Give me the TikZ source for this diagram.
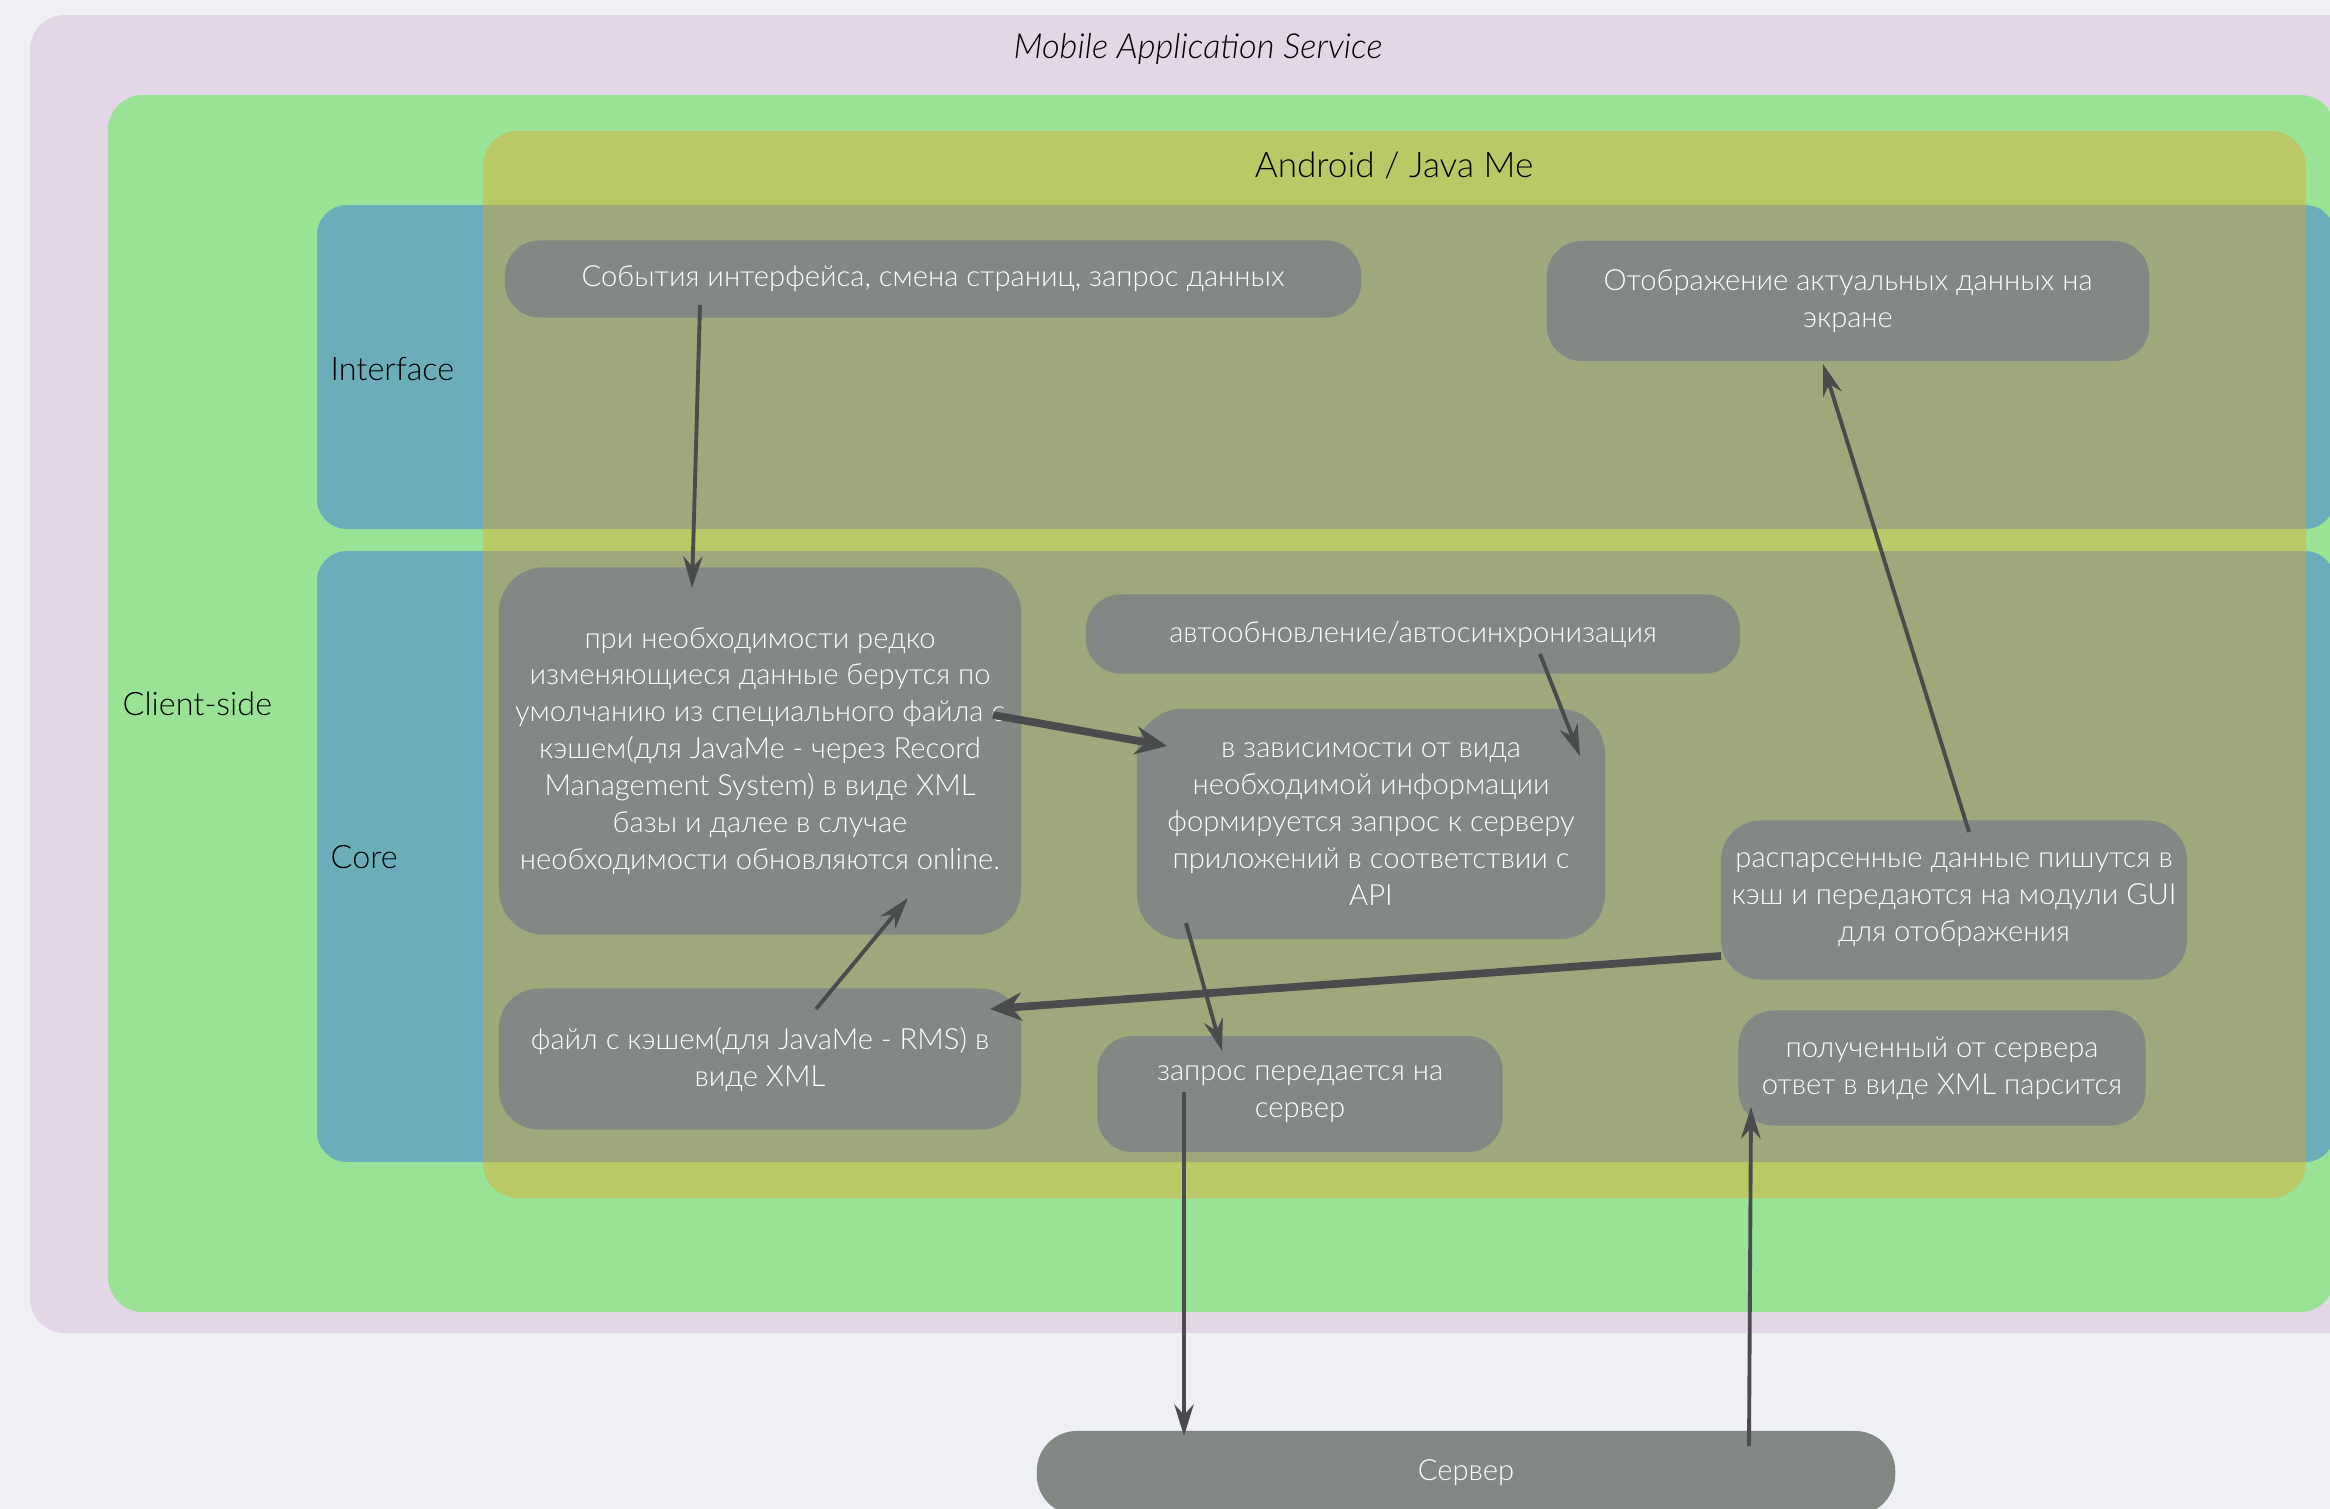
\documentclass[tikz,border=0pt]{standalone}
\usepackage{fontspec}
\IfFontExistsTF{Lato Light}{\setmainfont{Lato Light}[ItalicFont={Lato Light Italic}]}{\setmainfont{Lato}}
\usepackage{tikz}
\usetikzlibrary{arrows.meta,positioning,calc}

\definecolor{bgcol}{HTML}{EFF0F3}
\definecolor{pinkcol}{HTML}{E2D6E7}
\definecolor{greencol}{HTML}{99E296}
\definecolor{yellowcol}{HTML}{BAC966}
\definecolor{bluecol}{HTML}{6BADB8}
\definecolor{olivecol}{HTML}{9EA87B}
\definecolor{nodecol}{HTML}{838885}
\definecolor{arrowcol}{HTML}{4A4B4D}

\begin{document}
\begin{tikzpicture}[x=0.01cm,y=-0.01cm,
  box/.style={shape=rectangle,rounded corners=0.35cm,fill=nodecol,text=white,align=center,inner sep=0pt,font=\fontsize{8.3}{10.5}\selectfont},
  arr/.style={draw=arrowcol,line width=1.1pt,-{Stealth[length=9pt,width=5.5pt,inset=3pt]}},
  fat arr/.style={draw=arrowcol,line width=2.2pt,-{Stealth[length=9pt,width=8pt,inset=3pt]}},
  label/.style={font=\fontsize{9.2}{11}\selectfont}]
\useasboundingbox (0,0) rectangle (2330,1509);
\clip (0,0) rectangle (2330,1509);
\fill[bgcol] (0,0) rectangle (2330,1509);

% containers
\fill[pinkcol,rounded corners=0.35cm] (30,15) rectangle (2420,1333);
\fill[greencol,rounded corners=0.35cm] (108,95) rectangle (2335,1312);
\fill[bluecol,rounded corners=0.3cm] (317,205) rectangle (2335,529);
\fill[bluecol,rounded corners=0.3cm] (317,551) rectangle (2335,1162);
\fill[yellowcol,rounded corners=0.35cm] (483,131) rectangle (2306,1198);
\begin{scope}
\clip[rounded corners=0.35cm] (483,131) rectangle (2306,1198);
\fill[olivecol,rounded corners=0.3cm] (317,205) rectangle (2335,529);
\fill[olivecol,rounded corners=0.3cm] (317,551) rectangle (2335,1162);
\end{scope}

\node[label,font=\fontsize{9.8}{12}\selectfont\itshape] (mas) at (1198,49) {Mobile Application Service};
\node[label,font=\fontsize{10}{12}\selectfont] (andr) at (1394,165) {Android / Java Me};
\node[label,anchor=west,inner sep=0pt] (iface) at (330,369) {Interface};
\node[label,anchor=west,inner sep=0pt] (core) at (330,857) {Core};
\node[label,anchor=west,inner sep=0pt] (client) at (122,704) {Client-side};

% nodes
\node[box,minimum width=8.56cm,minimum height=0.77cm] (ev) at (933,279) {События интерфейса, смена страниц, запрос данных};
\node[box,minimum width=6.02cm,minimum height=1.2cm] (disp) at (1848,301) {Отображение актуальных данных на\\экране};
\node[box,minimum width=5.22cm,minimum height=3.67cm,rounded corners=0.45cm] (cache) at (760,751) {при необходимости редко\\изменяющиеся данные берутся по\\умолчанию из специального файла с\\кэшем(для JavaMe - через Record\\Management System) в виде XML\\базы и далее в случае\\необходимости обновляются online.};
\node[box,minimum width=6.54cm,minimum height=0.79cm] (auto) at (1413,634) {автообновление/автосинхронизация};
\node[box,minimum width=4.68cm,minimum height=2.3cm,rounded corners=0.45cm] (req) at (1371,824) {в зависимости от вида\\необходимой информации\\формируется запрос к серверу\\приложений в соответствии с\\API};
\node[box,minimum width=4.66cm,minimum height=1.59cm,rounded corners=0.4cm] (pars) at (1954,900) {распарсенные данные пишутся в\\кэш и передаются на модули GUI\\для отображения};
\node[box,minimum width=5.22cm,minimum height=1.41cm,rounded corners=0.4cm] (file) at (760,1059) {файл с кэшем(для JavaMe - RMS) в\\виде XML};
\node[box,minimum width=4.05cm,minimum height=1.16cm] (send) at (1300,1094) {запрос передается на\\сервер};
\node[box,minimum width=4.07cm,minimum height=1.15cm] (got) at (1942,1068) {полученный от сервера\\ответ в виде XML парсится};
\node[box,minimum width=8.58cm,minimum height=0.84cm,rounded corners=0.4cm] (srv) at (1466,1473) {Сервер};

% connectors
\draw [arr] ([shift={(-233,26)}]ev.center) -- ([shift={(-68,-163)}]cache.center);
\draw [fat arr] ([shift={(233,-36)}]cache.center) -- ([shift={(-204,-78)}]req.center);
\draw [arr] ([shift={(127,20)}]auto.center) -- ([shift={(209,-68)}]req.center);
\draw [arr] ([shift={(-185,99)}]req.center) -- ([shift={(-78,-43)}]send.center);
\draw [arr] ([shift={(56,-50)}]file.center) -- ([shift={(148,147)}]cache.center);
\draw [fat arr] ([shift={(-233,56)}]pars.center) -- ([shift={(230,-50)}]file.center);
\draw [arr] ([shift={(15,-68)}]pars.center) -- ([shift={(-25,63)}]disp.center);
\draw [arr] ([shift={(-116,-2)}]send.center) -- ([shift={(-282,-37)}]srv.center);
\draw [arr] ([shift={(283,-27)}]srv.center) -- ([shift={(-191,39)}]got.center);
\end{tikzpicture}
\end{document}
